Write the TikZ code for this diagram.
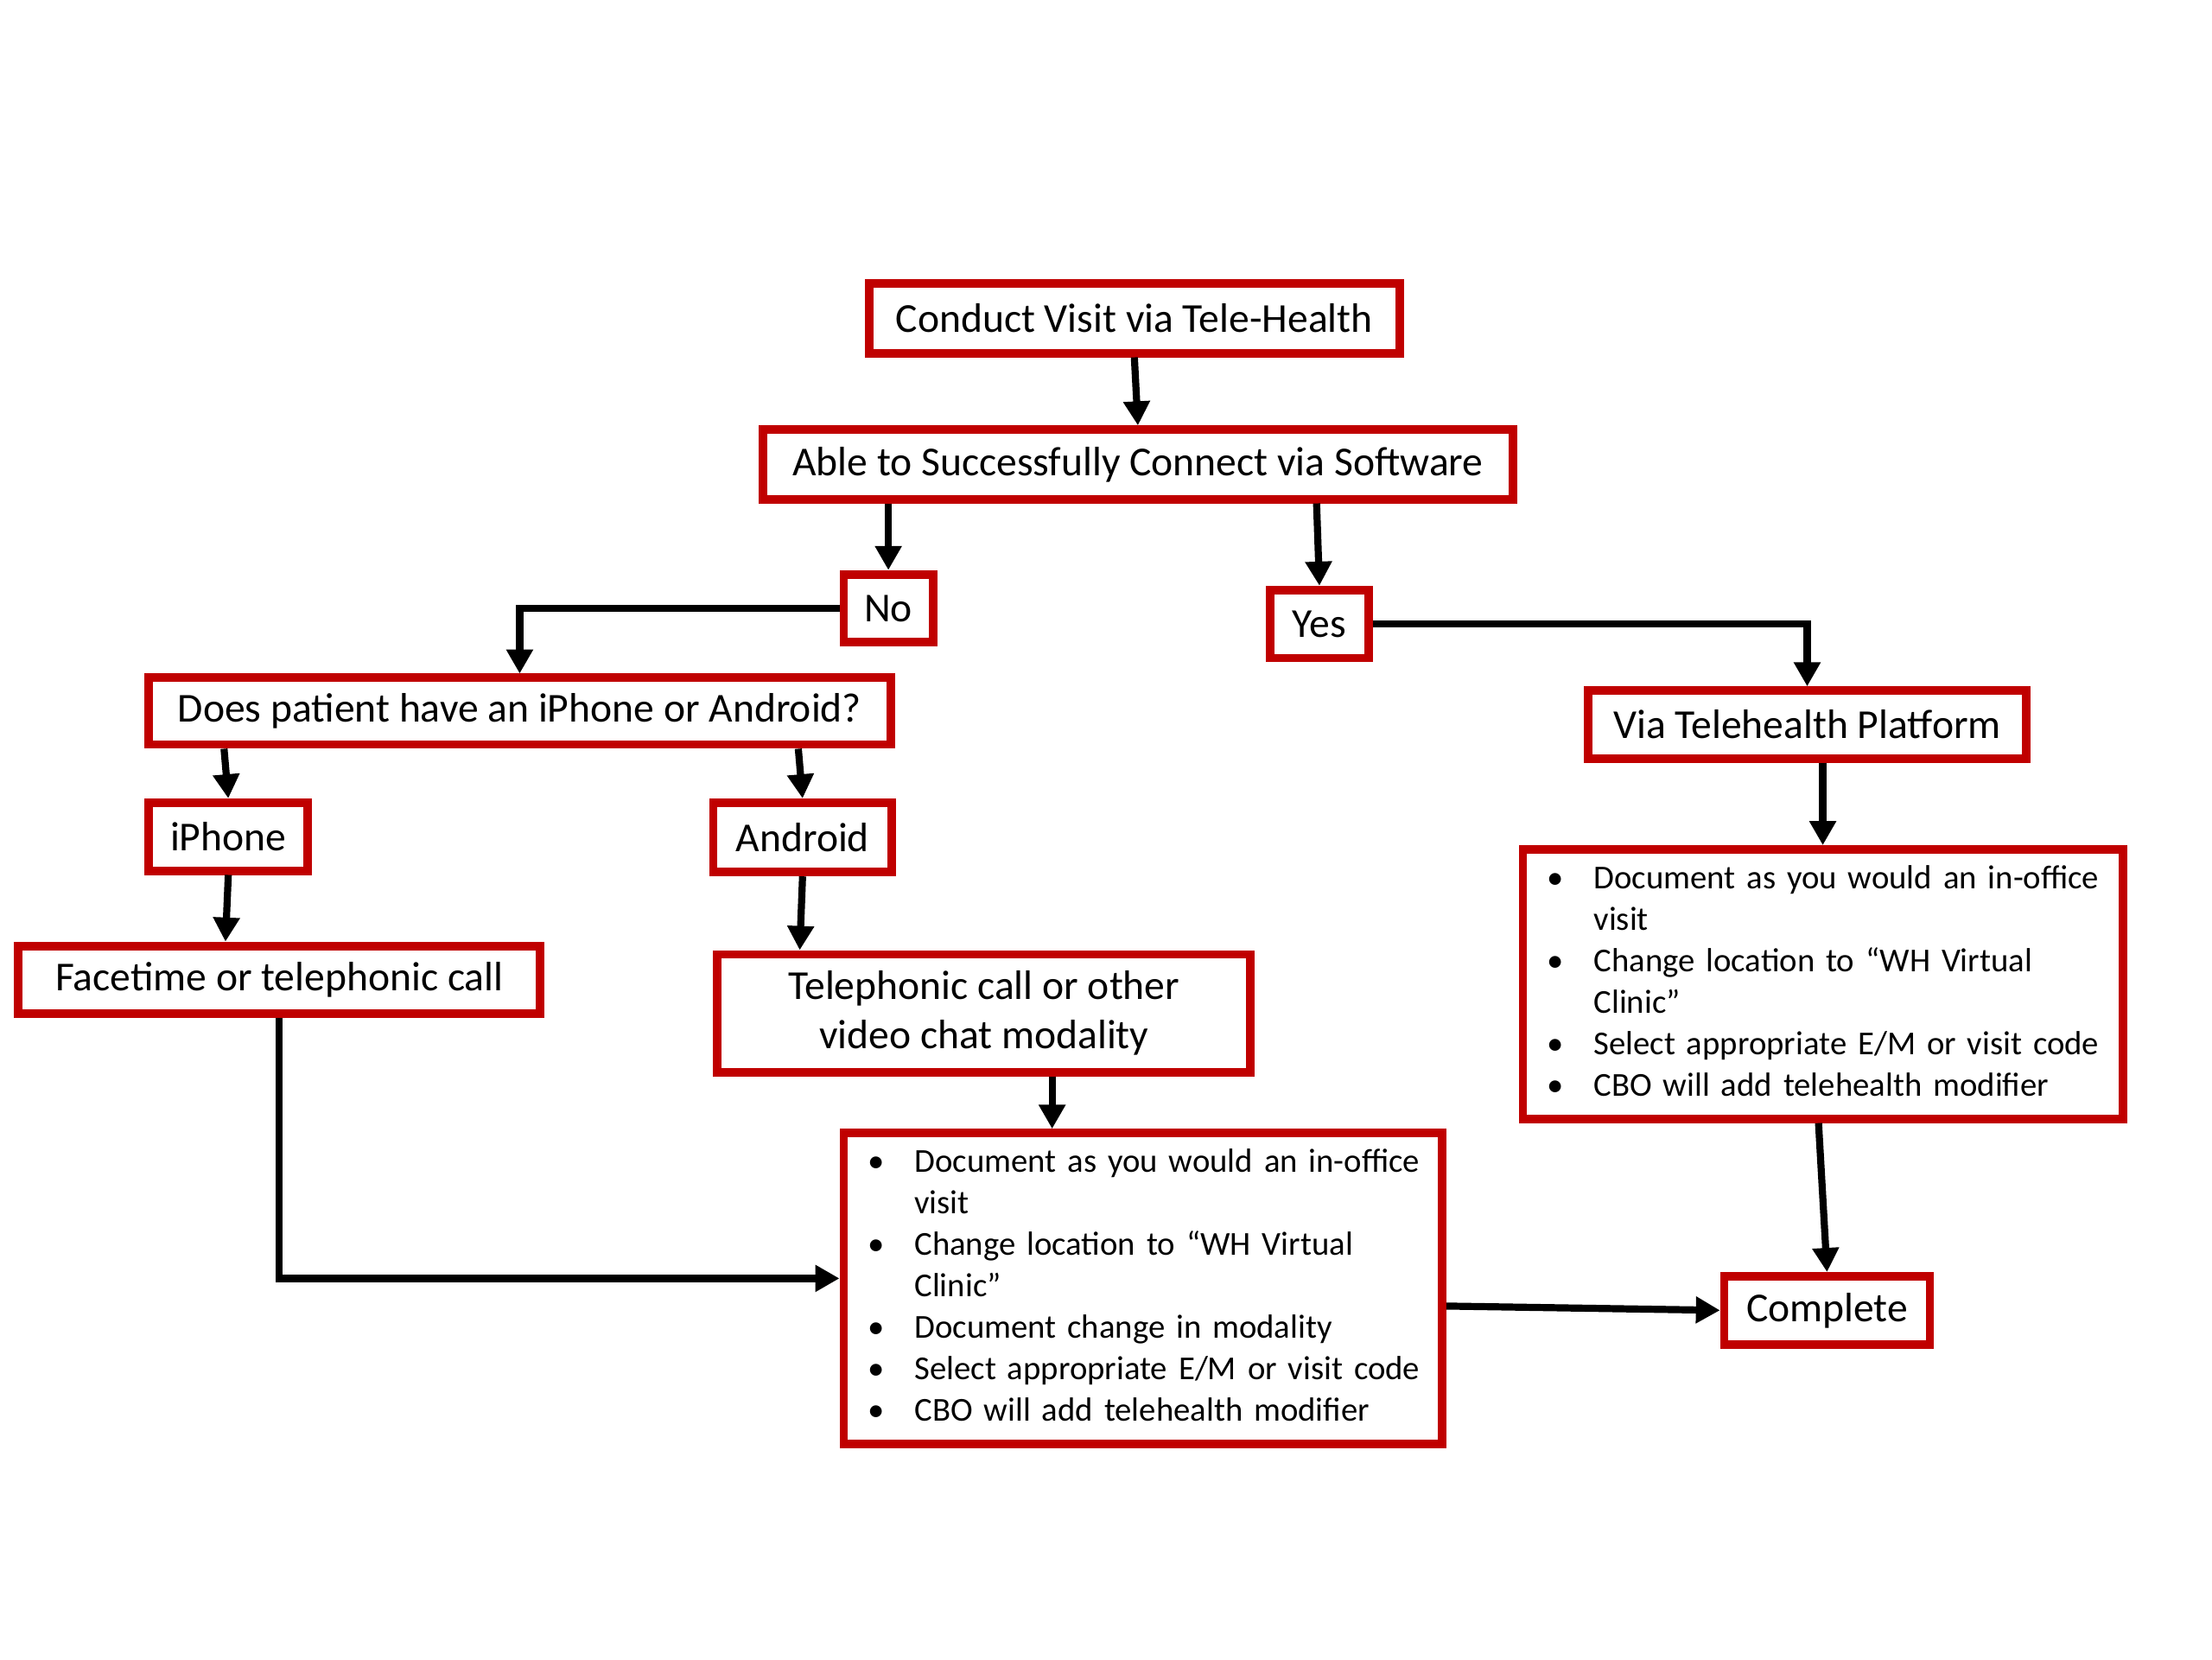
\documentclass[tikz,border=0pt]{standalone}
\usepackage{fontspec}
\setmainfont{Carlito}
\usetikzlibrary{arrows.meta,calc}
\definecolor{boxred}{RGB}{192,0,0}
\tikzset{
  box/.style={draw=boxred, line width=6pt, fill=white, inner sep=0pt, font=\fontsize{29}{35}\selectfont, text=black},
  listbox/.style={box, font=\fontsize{23.6}{29.3}\selectfont, align=left, inner xsep=17pt, inner ysep=0pt},
  arr/.style={line width=5pt, -{Triangle[width=18pt,length=17pt]}, shorten >=0pt, line join=miter}
}
\newenvironment{blist}{\begin{tabular}{@{}p{33pt}@{}l@{}}}{\end{tabular}}
\begin{document}
\begin{tikzpicture}[x=1pt,y=-1pt]
\useasboundingbox[fill=white] (0,0) rectangle (1560,1170);

\node[box, minimum width=374, minimum height=49] (conduct) at (800,224.5) {Conduct Visit via Tele-Health};
\node[box, minimum width=529, minimum height=49] (able) at (802.5,327.5) {Able to Successfully Connect via Software};
\node[box, minimum width=63, minimum height=48] (no) at (626.5,429) {No};
\node[box, minimum width=69, minimum height=48] (yes) at (930.5,440) {Yes};
\node[box, minimum width=523, minimum height=47] (does) at (366.5,501.5) {Does patient have an iPhone or Android?};
\node[box, minimum width=112, minimum height=48] (iphone) at (161,590) {iPhone};
\node[box, minimum width=126, minimum height=49] (android) at (566,590.5) {Android};
\node[box, minimum width=368, minimum height=48] (facetime) at (197,691) {Facetime or telephonic call};
\node[box, minimum width=376, minimum height=83, align=center] (tele) at (694,714.5) {Telephonic call or other\\video chat modality};
\node[box, minimum width=309, minimum height=48] (via) at (1274.5,511) {Via Telehealth Platform};
\node[listbox, minimum width=423, minimum height=190, text width=389] (rb) at (1285.5,694) {%
\begin{blist}
\textbullet & Document as you would an in-office\\
 & visit\\
\textbullet & Change location to “WH Virtual\\
 & Clinic”\\
\textbullet & Select appropriate E/M or visit code\\
\textbullet & CBO will add telehealth modifier
\end{blist}};
\node[listbox, minimum width=422, minimum height=219, text width=388] (center) at (806,908.5) {%
\begin{blist}
\textbullet & Document as you would an in-office\\
 & visit\\
\textbullet & Change location to “WH Virtual\\
 & Clinic”\\
\textbullet & Document change in modality\\
\textbullet & Select appropriate E/M or visit code\\
\textbullet & CBO will add telehealth modifier
\end{blist}};
\node[box, minimum width=145, minimum height=48] (complete) at (1288.5,924) {Complete};

\draw[arr] (conduct.south) -- (able.north);
\draw[arr] (able.south -| no.north) -- (no.north);
\draw[arr] ([xshift=-2pt]able.south -| yes.north) -- (yes.north);
\draw[arr] (no.west) -| (does.north);
\draw[arr] (yes.east) -| (via.north);
\draw[arr] ([xshift=-3pt]does.south -| iphone.north) -- (iphone.north);
\draw[arr] ([xshift=-3pt]does.south -| android.north) -- (android.north);
\draw[arr] (iphone.south) -- ([xshift=-2pt]iphone.south |- facetime.north);
\draw[arr] (android.south) -- ([xshift=-2pt]android.south |- tele.north);
\draw[arr] (facetime.south) |- ([yshift=7pt]center.west);
\draw[arr] ([xshift=48pt]tele.south) -- ([xshift=48pt]tele.south |- center.north);
\draw[arr] ([xshift=11pt]via.south) -- (rb.north);
\draw[arr] ([xshift=-3pt]rb.south) -- (complete.north);
\draw[arr] ([yshift=-12.5pt]center.east) -- (complete.west);
\end{tikzpicture}
\end{document}
